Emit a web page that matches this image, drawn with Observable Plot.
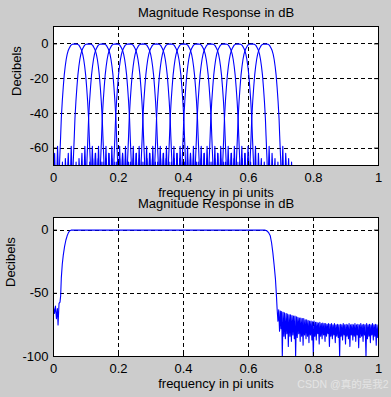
<!DOCTYPE html>
<html>
<head>
<meta charset="utf-8">
<script src="https://cdn.jsdelivr.net/npm/d3@7"></script>
<script src="https://cdn.jsdelivr.net/npm/@observablehq/plot@0.6"></script>
<style>
  html, body { margin: 0; padding: 0; background: #cccccc; }
  #fig { width: 391px; height: 397px; background: #cccccc; overflow: hidden; }
  #fig svg { display: block; }
</style>
</head>
<body>
<div id="fig"></div>
<script>
// ---------- text ----------
const titleText = "Magnitude Response in dB";
const xLabelText = "frequency in pi units";
const yLabelText = "Decibels";
const watermarkText = "CSDN @真的是我2";

// ---------- ticks ----------
const xTicks = [0, 0.2, 0.4, 0.6, 0.8, 1];
const topYTicks = [0, -20, -40, -60];
const bottomYTicks = [0, -50, -100];

// ---------- top: filter bank (centre frequencies, pi units) ----------
const bandCenters = [0.066, 0.108, 0.150, 0.192, 0.233, 0.275, 0.317, 0.359,
                     0.401, 0.443, 0.484, 0.526, 0.568, 0.610, 0.652];

// response of one band: offset from centre, dB
const bandOffset = [
  -0.0895, -0.085, -0.0805, -0.076, -0.0715, -0.067, -0.0625, -0.058, -0.0535, -0.049,
  -0.047, -0.0455, -0.044, -0.042, -0.039, -0.036, -0.033, -0.030, -0.027, -0.024,
  -0.021, -0.018, -0.015, -0.012, -0.008, 0,
  0.008, 0.012, 0.015, 0.018, 0.021, 0.024, 0.027, 0.030, 0.033, 0.036,
  0.039, 0.042, 0.044, 0.0455, 0.047,
  0.049, 0.0535, 0.058, 0.0625, 0.067, 0.0715, 0.076, 0.0805, 0.085, 0.0895
];
const bandDb = [
  -70, -88, -68, -95, -66, -82, -63, -90, -59, -85,
  -67, -60, -53, -43, -33, -25, -18, -13, -9, -6,
  -4, -2.7, -1.6, -0.7, -0.2, 0,
  -0.2, -0.7, -1.6, -2.7, -4, -6, -9, -13, -18, -25,
  -33, -43, -53, -60, -67,
  -85, -59, -90, -63, -82, -66, -95, -68, -88, -70
];

// ---------- bottom: overall response ----------
const sumFreq = [
  0.000, 0.003, 0.006, 0.009, 0.012, 0.014, 0.017, 0.020, 0.022, 0.024,
  0.027, 0.030, 0.034, 0.038, 0.042, 0.046, 0.050, 0.054, 0.650, 0.656,
  0.662, 0.667, 0.671, 0.675, 0.679, 0.683, 0.686,
  0.688, 0.6905, 0.693, 0.6955, 0.698, 0.700, 0.702, 0.704, 0.7065, 0.709,
  0.711, 0.7135, 0.716, 0.718, 0.7205, 0.7225, 0.725, 0.7275, 0.7295, 0.732,
  0.734, 0.7365, 0.7385, 0.741, 0.743, 0.745, 0.7475, 0.750, 0.752, 0.7545,
  0.7565, 0.759, 0.761, 0.7635, 0.7655, 0.768, 0.770, 0.7725, 0.7745, 0.777,
  0.779, 0.7815, 0.7835, 0.786, 0.788, 0.7905, 0.7925, 0.795, 0.797, 0.7995,
  0.8015, 0.804, 0.806, 0.8085, 0.8105, 0.813, 0.815, 0.8175, 0.8195, 0.822,
  0.824, 0.8265, 0.8285, 0.831, 0.833, 0.8355, 0.8375, 0.840, 0.842, 0.8445,
  0.8465, 0.849, 0.851, 0.8535, 0.8555, 0.858, 0.860, 0.8625, 0.8645, 0.867,
  0.869, 0.8715, 0.8735, 0.876, 0.878, 0.8805, 0.8825, 0.885, 0.887, 0.8895,
  0.8915, 0.894, 0.896, 0.8985, 0.9005, 0.903, 0.905, 0.9075, 0.9095, 0.912,
  0.914, 0.9165, 0.9185, 0.921, 0.923, 0.9255, 0.9275, 0.930, 0.932, 0.9345,
  0.9365, 0.939, 0.941, 0.9435, 0.9455, 0.948, 0.950, 0.9525, 0.9545, 0.957,
  0.959, 0.9615, 0.9635, 0.966, 0.968, 0.9705, 0.9725, 0.975, 0.977, 0.9795,
  0.9815, 0.984, 0.986, 0.9885, 0.9905, 0.993, 0.995, 0.9975, 1.000
];
const sumDb = [
  -61, -66, -60, -70, -62, -75, -58, -57, -52, -38,
  -27, -20, -13, -8, -4.5, -2, -0.5, 0, 0, -0.5,
  -2, -4.5, -10, -18, -28, -39, -52,
  -62, -72, -63, -80, -64, -78, -64.5, -100, -65, -84,
  -65.5, -86, -66, -82, -66.5, -92, -67, -84, -67, -88,
  -67.5, -83, -68, -86, -68, -100, -68.5, -85, -69, -82,
  -69.5, -88, -69.5, -84, -70, -91, -70, -83, -71, -86,
  -71, -84, -71.5, -89, -72, -83, -72, -87, -72.5, -100,
  -72, -84, -73, -87, -73, -82, -73.5, -90, -73, -84,
  -74, -86, -73.5, -83, -74, -88, -74, -84, -74.5, -82,
  -74, -92, -74.5, -84, -74, -86, -75, -83, -74, -89,
  -75, -84, -74.5, -85, -75, -100, -74.5, -84, -75, -87,
  -74, -83, -75, -90, -74.5, -84, -75, -86, -74, -92,
  -75, -83, -74.5, -87, -75, -84, -74, -88, -75, -83,
  -74.5, -93, -75, -85, -74, -84, -75, -88, -74.5, -83,
  -75, -100, -74, -86, -75, -84, -74.5, -89, -75, -83,
  -74, -87, -75, -84, -74.5, -91, -75, -85, -74.5
];

// ---------- tables built from the arrays ----------
const bankRows = bandCenters.flatMap((c, i) =>
  bandOffset.map((o, j) => ({band: i, f: c + o, db: bandDb[j]})));
const sumRows = sumFreq.map((f, i) => ({f, db: sumDb[i]}));

const font = "'Liberation Sans', Arial, Helvetica, sans-serif";
const blue = "#0000ff";
const fmtX = d => (d === 0 || d === 1) ? String(d) : d.toFixed(1);
const fmtY = d => String(d);

function panel({height, marginTop, marginBottom, yDomain, yTicks, ylabelDx, data, z, extra = []}) {
  return Plot.plot({
    width: 391,
    height,
    marginLeft: 53,
    marginRight: 13,
    marginTop,
    marginBottom,
    style: {background: "transparent", overflow: "visible", fontFamily: font, fontSize: "13px", color: "black"},
    x: {domain: [0, 1], ticks: xTicks, tickFormat: fmtX, tickSize: 0, tickPadding: 7, label: null},
    y: {domain: yDomain, ticks: yTicks, tickFormat: fmtY, tickSize: 0, tickPadding: 5, label: null},
    marks: [
      Plot.frame({fill: "white", stroke: "none"}),
      Plot.ruleX(xTicks, {stroke: "black", strokeWidth: 1, strokeDasharray: "4,3", shapeRendering: "crispEdges"}),
      Plot.ruleY(yTicks, {stroke: "black", strokeWidth: 1, strokeDasharray: "4,3", shapeRendering: "crispEdges"}),
      Plot.line(data, {x: "f", y: "db", z, stroke: blue, strokeWidth: 1.1, clip: true}),
      Plot.ruleX(xTicks, {stroke: "black", insetTop: height - marginTop - marginBottom - 4}),
      Plot.ruleX(xTicks, {stroke: "black", insetBottom: height - marginTop - marginBottom - 4}),
      Plot.ruleY(yTicks, {stroke: "black", insetRight: 325 - 4}),
      Plot.ruleY(yTicks, {stroke: "black", insetLeft: 325 - 4}),
      Plot.frame({stroke: "black", strokeWidth: 1, shapeRendering: "crispEdges"}),
      Plot.axisX({ticks: xTicks, tickFormat: fmtX, tickSize: 0, tickPadding: 7, label: null, fill: "black"}),
      Plot.axisY({ticks: yTicks, tickFormat: fmtY, tickSize: 0, tickPadding: 5, label: null, fill: "black"}),
      Plot.text([titleText], {text: d => d, frameAnchor: "top", lineAnchor: "bottom", dy: -10, fill: "black", fontSize: 13}),
      Plot.text([xLabelText], {text: d => d, frameAnchor: "bottom", lineAnchor: "bottom", dy: 31, fill: "black", fontSize: 13}),
      Plot.text([yLabelText], {text: d => d, frameAnchor: "left", lineAnchor: "bottom", rotate: -90, dx: ylabelDx, fill: "black", fontSize: 13}),
      ...extra
    ]
  });
}

const fig = document.getElementById("fig");

fig.appendChild(panel({
  height: 200, marginTop: 26, marginBottom: 35,
  yDomain: [-70, 10], yTicks: topYTicks, ylabelDx: -32.5,
  data: bankRows, z: "band"
}));

fig.appendChild(panel({
  height: 197, marginTop: 17, marginBottom: 41,
  yDomain: [-100, 10], yTicks: bottomYTicks, ylabelDx: -39,
  data: sumRows, z: null,
  extra: [
    Plot.text([watermarkText], {text: d => d, frameAnchor: "bottom-right", textAnchor: "end", lineAnchor: "bottom",
      dx: 10, dy: 31, fill: "#e4e4e4", fontSize: 10.5,
      fontFamily: "'Liberation Sans', 'Noto Sans CJK SC', sans-serif"})
  ]
}));
</script>
</body>
</html>
